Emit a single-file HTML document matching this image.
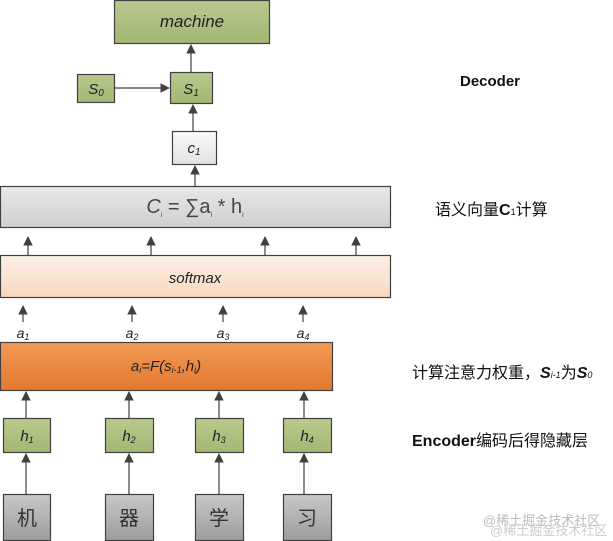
<!DOCTYPE html>
<html><head><meta charset="utf-8"><style>
html,body{margin:0;padding:0;background:#fff;width:613px;height:541px;overflow:hidden}
svg{display:block}
text{font-family:"Liberation Sans","Noto Sans CJK SC",sans-serif}
</style></head><body>
<svg width="613" height="541" viewBox="0 0 613 541" xmlns="http://www.w3.org/2000/svg">
<defs>
<marker id="ar" viewBox="0 0 10 10" refX="9" refY="5" markerWidth="8" markerHeight="8" orient="auto-start-reverse"><path d="M0,0 L10,5 L0,10 z" fill="#404040"/></marker>
<linearGradient id="gG" x1="0" y1="0" x2="0" y2="1"><stop offset="0" stop-color="#b9c98f"/><stop offset="1" stop-color="#a3b774"/></linearGradient>
<linearGradient id="gGrey" x1="0" y1="0" x2="0" y2="1"><stop offset="0" stop-color="#e8e8e8"/><stop offset="1" stop-color="#cfcfcf"/></linearGradient>
<linearGradient id="gC" x1="0" y1="0" x2="0" y2="1"><stop offset="0" stop-color="#fafafa"/><stop offset="1" stop-color="#e2e2e2"/></linearGradient>
<linearGradient id="gP" x1="0" y1="0" x2="0" y2="1"><stop offset="0" stop-color="#fdf0e6"/><stop offset="1" stop-color="#f7d8c0"/></linearGradient>
<linearGradient id="gO" x1="0" y1="0" x2="0" y2="1"><stop offset="0" stop-color="#f29a55"/><stop offset="1" stop-color="#e4782f"/></linearGradient>
<linearGradient id="gW" x1="0" y1="0" x2="0" y2="1"><stop offset="0" stop-color="#c8c8c8"/><stop offset="1" stop-color="#9c9c9c"/></linearGradient>
</defs>
<g stroke="#404040" stroke-width="1.2" fill="none">
<line x1="191" y1="72" x2="191" y2="45" marker-end="url(#ar)"/>
<line x1="114" y1="88" x2="169" y2="88" marker-end="url(#ar)"/>
<line x1="193" y1="131" x2="193" y2="105" marker-end="url(#ar)"/>
<line x1="195" y1="186" x2="195" y2="166" marker-end="url(#ar)"/>
<line x1="28" y1="255" x2="28" y2="237" marker-end="url(#ar)"/>
<line x1="151" y1="255" x2="151" y2="237" marker-end="url(#ar)"/>
<line x1="265" y1="255" x2="265" y2="237" marker-end="url(#ar)"/>
<line x1="356" y1="255" x2="356" y2="237" marker-end="url(#ar)"/>
<line x1="23" y1="322" x2="23" y2="306" marker-end="url(#ar)"/>
<line x1="132" y1="322" x2="132" y2="306" marker-end="url(#ar)"/>
<line x1="223" y1="322" x2="223" y2="306" marker-end="url(#ar)"/>
<line x1="303" y1="322" x2="303" y2="306" marker-end="url(#ar)"/>
<line x1="26" y1="418" x2="26" y2="392" marker-end="url(#ar)"/>
<line x1="129" y1="418" x2="129" y2="392" marker-end="url(#ar)"/>
<line x1="219" y1="418" x2="219" y2="392" marker-end="url(#ar)"/>
<line x1="304" y1="418" x2="304" y2="392" marker-end="url(#ar)"/>
<line x1="26" y1="494" x2="26" y2="454" marker-end="url(#ar)"/>
<line x1="129" y1="494" x2="129" y2="454" marker-end="url(#ar)"/>
<line x1="219" y1="494" x2="219" y2="454" marker-end="url(#ar)"/>
<line x1="304" y1="494" x2="304" y2="454" marker-end="url(#ar)"/>
</g>
<g stroke="#404040" stroke-width="1.2">
<rect x="114.5" y="0.5" width="155" height="43" fill="url(#gG)"/>
<rect x="77.5" y="74.5" width="37" height="28" fill="url(#gG)"/>
<rect x="170.5" y="72.5" width="42" height="31" fill="url(#gG)"/>
<rect x="172.5" y="131.5" width="44" height="33" fill="url(#gC)"/>
<rect x="0.5" y="186.5" width="390" height="41" fill="url(#gGrey)"/>
<rect x="0.5" y="255.5" width="390" height="42" fill="url(#gP)"/>
<rect x="0.5" y="342.5" width="332" height="48" fill="url(#gO)"/>
<rect x="3.5" y="418.5" width="47" height="34" fill="url(#gG)"/>
<rect x="105.5" y="418.5" width="48" height="34" fill="url(#gG)"/>
<rect x="195.5" y="418.5" width="48" height="34" fill="url(#gG)"/>
<rect x="283.5" y="418.5" width="48" height="34" fill="url(#gG)"/>
<rect x="3.5" y="494.5" width="47" height="46" fill="url(#gW)"/>
<rect x="105.5" y="494.5" width="48" height="46" fill="url(#gW)"/>
<rect x="195.5" y="494.5" width="48" height="46" fill="url(#gW)"/>
<rect x="283.5" y="494.5" width="48" height="46" fill="url(#gW)"/>
</g>
<g fill="#222" font-style="italic" text-anchor="middle">
<text x="192" y="27" font-size="17">machine</text>
<text x="96" y="94" font-size="15">S<tspan font-size="10" dy="2">0</tspan></text>
<text x="191" y="94" font-size="15">S<tspan font-size="10" dy="2">1</tspan></text>
<text x="194" y="153" font-size="15">c<tspan font-size="10" dy="2">1</tspan></text>
<text x="195" y="283" font-size="15">softmax</text>
<text x="23" y="338" font-size="14">a<tspan font-size="9" dy="2">1</tspan></text>
<text x="132" y="338" font-size="14">a<tspan font-size="9" dy="2">2</tspan></text>
<text x="223" y="338" font-size="14">a<tspan font-size="9" dy="2">3</tspan></text>
<text x="303" y="338" font-size="14">a<tspan font-size="9" dy="2">4</tspan></text>
<text x="166" y="371" font-size="15">a<tspan font-size="9" dy="2">i</tspan><tspan dy="-2">=F(s</tspan><tspan font-size="9" dy="2">i-1</tspan><tspan dy="-2">,h</tspan><tspan font-size="9" dy="2">i</tspan><tspan dy="-2">)</tspan></text>
<text x="27" y="441" font-size="15">h<tspan font-size="9" dy="2">1</tspan></text>
<text x="129" y="441" font-size="15">h<tspan font-size="9" dy="2">2</tspan></text>
<text x="219" y="441" font-size="15">h<tspan font-size="9" dy="2">3</tspan></text>
<text x="307" y="441" font-size="15">h<tspan font-size="9" dy="2">4</tspan></text>
</g>
<text x="195" y="213" font-size="20" text-anchor="middle" fill="#444" font-family="Liberation Serif,serif"><tspan font-style="italic">C</tspan><tspan font-size="7" dy="4">i</tspan><tspan dy="-4"> = ∑a</tspan><tspan font-size="7" dy="4">i</tspan><tspan dy="-4"> * h</tspan><tspan font-size="7" dy="4">i</tspan></text>
<g font-size="20" fill="#333" text-anchor="middle" font-family="Noto Serif CJK SC,serif">
<text x="27" y="525">机</text><text x="129" y="525">器</text><text x="219" y="525">学</text><text x="307" y="525">习</text>
</g>
<g fill="#111" font-weight="bold">
<text x="460" y="86" font-size="15">Decoder</text>
<text x="435" y="215" font-size="16" font-weight="normal" font-family="Noto Serif CJK SC,serif">语义向量<tspan font-weight="bold" font-family="Liberation Sans,sans-serif">C</tspan><tspan font-size="9">1</tspan>计算</text>
<text x="412" y="378" font-size="16" font-weight="normal" font-family="Noto Serif CJK SC,serif">计算注意力权重，<tspan font-style="italic" font-weight="bold" font-family="Liberation Sans,sans-serif">S</tspan><tspan font-size="9" font-style="italic" font-family="Liberation Sans,sans-serif">i-1</tspan>为<tspan font-style="italic" font-weight="bold" font-family="Liberation Sans,sans-serif">S</tspan><tspan font-size="9" font-style="italic" font-family="Liberation Sans,sans-serif">0</tspan></text>
<text x="412" y="446" font-size="16">Encoder<tspan font-weight="normal" font-family="Noto Sans CJK SC,sans-serif">编码后得隐藏层</tspan></text>
</g>
<text x="483" y="525" font-size="13" fill="#bbb">@稀土掘金技术社区</text>
<text x="490" y="535" font-size="13" fill="#ccc">@稀土掘金技术社区</text>
</svg>
</body></html>
